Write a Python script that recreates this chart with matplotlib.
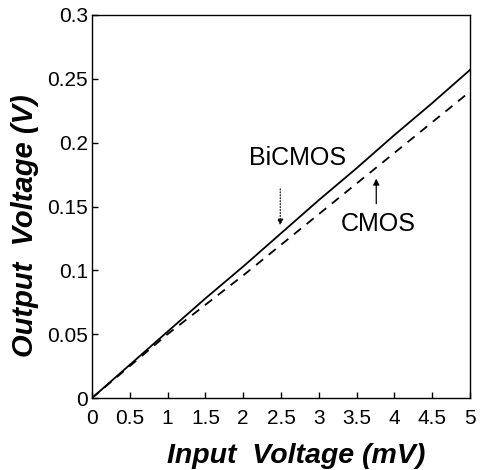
import numpy as np
import matplotlib.pyplot as plt

# valores
x_in = [0, 0.5, 1, 1.5, 2, 2.5, 3, 3.5, 4, 4.5, 5]
bicmos = [0, 0.026, 0.052, 0.078, 0.103, 0.129, 0.155, 0.180, 0.206, 0.231, 0.257]
cmos = [0, 0.025, 0.050, 0.073, 0.096, 0.120, 0.144, 0.168, 0.192, 0.216, 0.240]
xticks = [0, 0.5, 1, 1.5, 2, 2.5, 3, 3.5, 4, 4.5, 5]
xticklabels = ["0", "0.5", "1", "1.5", "2", "2.5", "3", "3.5", "4", "4.5", "5"]
yticks = [0, 0.05, 0.1, 0.15, 0.2, 0.25, 0.3]
yticklabels = ["0", "0.05", "0.1", "0.15", "0.2", "0.25", "0.3"]

fig = plt.figure(figsize=(4.81, 4.70), dpi=100)
ax = fig.add_axes([92/481, 72/470, 378/481, 383/470])

ax.plot(x_in, bicmos, color='black', linewidth=1.3)
ax.plot(x_in, cmos, color='black', linewidth=1.3, linestyle=(0, (5, 4)))

ax.set_xlim(0, 5)
ax.set_ylim(0, 0.3)
ax.set_xticks(xticks)
ax.set_xticklabels(xticklabels)
ax.set_yticks(yticks)
ax.set_yticklabels(yticklabels)
ax.tick_params(direction='in', length=4, width=1)
ax.tick_params(axis='x', pad=8)
ax.tick_params(axis='y', pad=3)
for lab in ax.get_xticklabels() + ax.get_yticklabels():
    lab.set_fontfamily(['Liberation Sans', 'DejaVu Sans'])
    lab.set_fontsize(15)
for s in ax.spines.values():
    s.set_linewidth(1)

ax.set_xlabel("Input  Voltage (mV)", fontsize=20.5, fontweight='bold', style='italic',
              family=['Liberation Sans', 'DejaVu Sans'])
ax.set_ylabel("Output  Voltage (V)", fontsize=21, fontweight='bold', style='italic',
              family=['Liberation Sans', 'DejaVu Sans'])
ax.xaxis.set_label_coords(0.54, -0.118)
ax.yaxis.set_label_coords(-0.14, 0.45)

# anotaciones
ax.text(2.72, 0.188, "BiCMOS", fontsize=18, ha='center', va='center',
        family=['Liberation Sans', 'DejaVu Sans'])
ax.annotate("", xy=(2.49, 0.133), xytext=(2.49, 0.166),
            arrowprops=dict(arrowstyle='-|>', color='black', lw=0.8,
                            linestyle=':', mutation_scale=9))
ax.text(3.78, 0.136, "CMOS", fontsize=18, ha='center', va='center',
        family=['Liberation Sans', 'DejaVu Sans'])
ax.annotate("", xy=(3.76, 0.174), xytext=(3.76, 0.150),
            arrowprops=dict(arrowstyle='-|>', color='black', lw=0.9,
                            mutation_scale=9))

fig.savefig("out.png", dpi=100)
